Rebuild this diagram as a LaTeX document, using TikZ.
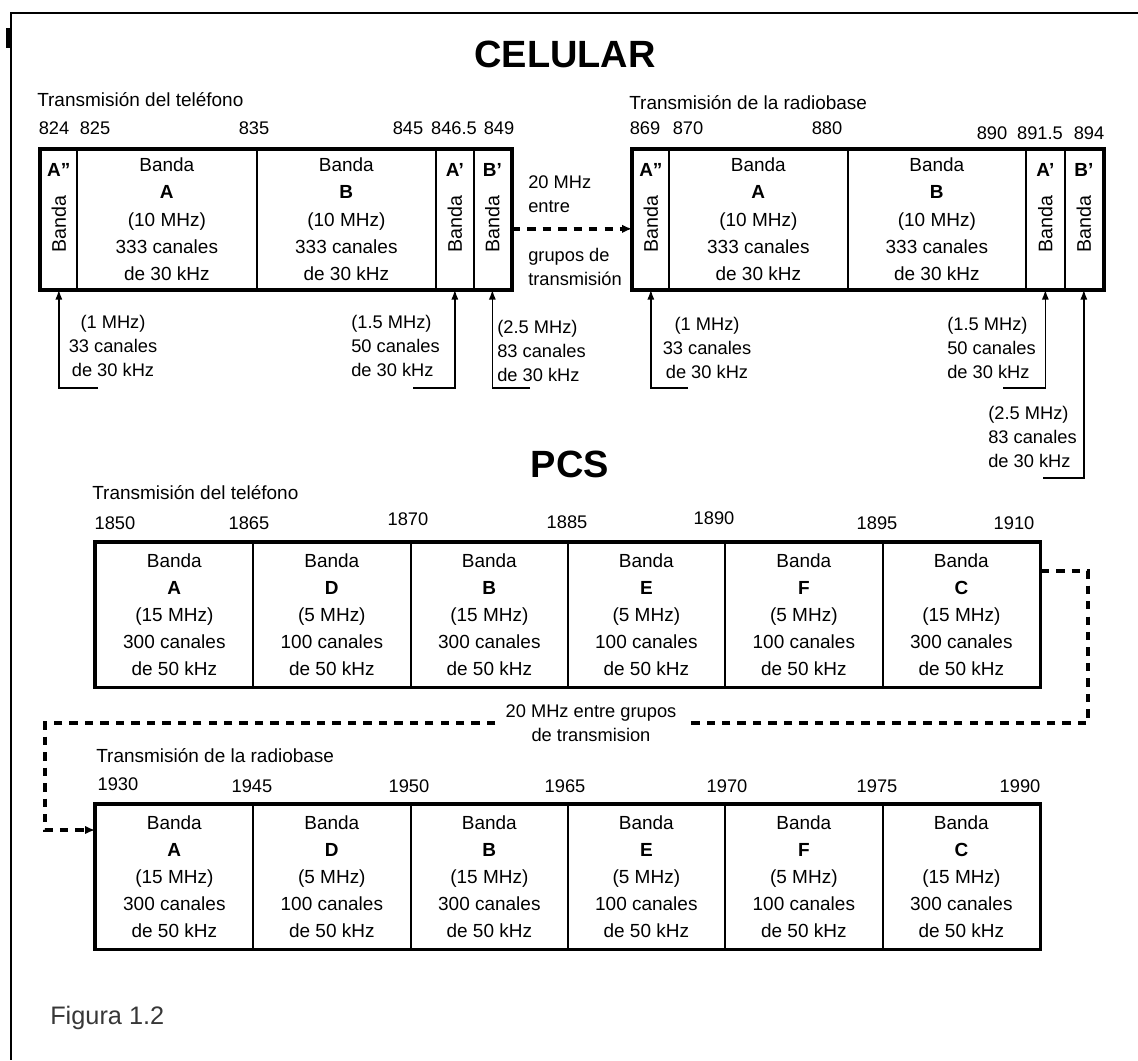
\documentclass[tikz,border=0pt]{standalone}
\usepackage{fontspec}
\setmainfont{Liberation Sans}
\usetikzlibrary{arrows.meta,positioning,calc}
\definecolor{figgray}{RGB}{55,55,55}
\tikzset{
  cell/.style={
    draw,
    line width=1.2pt,
    anchor=north west,
    inner sep=0pt,
    align=center,
    font=\fontsize{13.5}{19.3}\selectfont
  },
  cellw/.style={minimum width=#1*0.025cm},
  celbox/.style={cell,minimum height=139*0.025cm},
  pcsbox/.style={cell,minimum height=144*0.025cm},
  outer/.style={line width=2.8pt},
  num/.style={inner sep=0pt,font=\fontsize{13}{15}\selectfont},
  lbl/.style={inner sep=0pt,anchor=west,font=\fontsize{13.5}{16}\selectfont},
  note/.style={inner sep=0pt,font=\fontsize{13}{17}\selectfont},
  title/.style={inner sep=0pt,font=\fontsize{27}{30}\selectfont\bfseries},
  tag/.style={inner sep=0pt,font=\fontsize{13.5}{16}\selectfont\bfseries},
  side/.style={inner sep=0pt,rotate=90,font=\fontsize{14}{16}\selectfont},
  uparr/.style={-{Latex[length=7pt,width=5pt]},line width=1pt},
  gap/.style={line width=2.4pt,dash pattern=on 6pt off 5pt}
}

\begin{document}
\begin{tikzpicture}[x=0.025cm,y=-0.025cm]
  \useasboundingbox (0,0) rectangle (1138,1060);
  % frame
  \draw[line width=2pt] (1138,13) -- (11,13) -- (11,1060);
  \draw[line width=3pt] (8,28) -- (8,48);

  \node[title] (celular) at (565,54) {CELULAR};
  \node[title] (pcs) at (570,464) {PCS};

  % celular, telefono
  \node[lbl] (tphone) at (37,100) {Transmisión del teléfono};
  \node[num] (n824) at (54,128) {824};
  \node[num] (n825) at (95,128) {825};
  \node[num] (n835) at (254,128) {835};
  \node[num] (n845) at (408,128) {845};
  \node[num] (n8465) at (454,128) {846.5};
  \node[num] (n849) at (499,128) {849};

  \node[celbox,cellw=36] (tA2) at (40,149) {};
  \node[celbox,cellw=180] (tA) at (76,149) {Banda\\\textbf{A}\\(10 MHz)\\333 canales\\de 30 kHz};
  \node[celbox,cellw=179] (tB) at (256,149) {Banda\\\textbf{B}\\(10 MHz)\\333 canales\\de 30 kHz};
  \node[celbox,cellw=38] (tA1) at (435,149) {};
  \node[celbox,cellw=37] (tB1) at (473,149) {};
  \draw[outer] (tA2.north west) rectangle (tB1.south east);
  \node[tag] (tA2t) at ($(tA2.north)+(0,21)$) {A"};
  \node[side] (tA2s) at ($(tA2.center)+(0,4.5)$) {Banda};
  \node[tag] (tA1t) at ($(tA1.north)+(0,21)$) {A'};
  \node[side] (tA1s) at ($(tA1.center)+(0,4.5)$) {Banda};
  \node[tag] (tB1t) at ($(tB1.north)+(0,21)$) {B'};
  \node[side] (tB1s) at ($(tB1.center)+(0,4.5)$) {Banda};

  \coordinate (t1e) at (98,388);
  \coordinate (t2e) at (413,388);
  \coordinate (t3e) at (530,388);
  \draw[uparr] (t1e) -| (tA2.south);
  \draw[uparr] (t2e) -| (tA1.south);
  \draw[uparr] (t3e) -| (tB1.south);
  \node[note,align=center] (t1note) at (113,346) {(1 MHz)\\33 canales\\de 30 kHz};
  \node[note,align=left,anchor=west] (t2note) at (351,346) {(1.5 MHz)\\50 canales\\de 30 kHz};
  \node[note,align=left,anchor=west] (t3note) at (497,351) {(2.5 MHz)\\83 canales\\de 30 kHz};

  % separacion
  \node[note,align=left,anchor=west] (sep1) at (528,194) {20 MHz\\entre};
  \node[note,align=left,anchor=west] (sep2) at (528,267) {grupos de\\transmisión};

  % celular, radiobase
  \node[lbl] (tbase) at (629,103) {Transmisión de la radiobase};
  \node[num] (n869) at (645,128) {869};
  \node[num] (n870) at (688,128) {870};
  \node[num] (n880) at (827,128) {880};
  \node[num] (n890) at (992,133) {890};
  \node[num] (n8915) at (1040,133) {891.5};
  \node[num] (n894) at (1089,133) {894};

  \node[celbox,cellw=36] (rA2) at (632,149) {};
  \node[celbox,cellw=179] (rA) at (668,149) {Banda\\\textbf{A}\\(10 MHz)\\333 canales\\de 30 kHz};
  \node[celbox,cellw=178] (rB) at (847,149) {Banda\\\textbf{B}\\(10 MHz)\\333 canales\\de 30 kHz};
  \node[celbox,cellw=39] (rA1) at (1025,149) {};
  \node[celbox,cellw=38] (rB1) at (1064,149) {};
  \draw[outer] (rA2.north west) rectangle (rB1.south east);
  \node[tag] (rA2t) at ($(rA2.north)+(0,21)$) {A"};
  \node[side] (rA2s) at ($(rA2.center)+(0,4.5)$) {Banda};
  \node[tag] (rA1t) at ($(rA1.north)+(0,21)$) {A'};
  \node[side] (rA1s) at ($(rA1.center)+(0,4.5)$) {Banda};
  \node[tag] (rB1t) at ($(rB1.north)+(0,21)$) {B'};
  \node[side] (rB1s) at ($(rB1.center)+(0,4.5)$) {Banda};

  \draw[gap,-{Latex[length=7pt,width=6pt]}] ($(tB1.east)+(0,9.5)$) -- ($(rA2.west)+(0,9.5)$);

  \coordinate (r1e) at (688,388);
  \coordinate (r2e) at (1003,388);
  \coordinate (r3e) at (1043,478);
  \draw[uparr] (r1e) -| (rA2.south);
  \draw[uparr] (r2e) -| (rA1.south);
  \draw[uparr] (r3e) -| (rB1.south);
  \node[note,align=center] (r1note) at (707,348) {(1 MHz)\\33 canales\\de 30 kHz};
  \node[note,align=left,anchor=west] (r2note) at (947,348) {(1.5 MHz)\\50 canales\\de 30 kHz};
  \node[note,align=left,anchor=west] (r3note) at (988,437) {(2.5 MHz)\\83 canales\\de 30 kHz};

  % PCS, telefono
  \node[lbl] (pphone) at (92,493) {Transmisión del teléfono};
  \node[num] (n1850) at (115,523) {1850};
  \node[num] (n1865) at (249,523) {1865};
  \node[num] (n1870) at (408,519) {1870};
  \node[num] (n1885) at (567,522) {1885};
  \node[num] (n1890) at (714,518) {1890};
  \node[num] (n1895) at (877,523) {1895};
  \node[num] (n1910) at (1014,523) {1910};

  \node[pcsbox,cellw=157] (pA) at (95,542) {Banda\\\textbf{A}\\(15 MHz)\\300 canales\\de 50 kHz};
  \node[pcsbox,cellw=158] (pD) at (252,542) {Banda\\\textbf{D}\\(5 MHz)\\100 canales\\de 50 kHz};
  \node[pcsbox,cellw=157] (pB) at (410,542) {Banda\\\textbf{B}\\(15 MHz)\\300 canales\\de 50 kHz};
  \node[pcsbox,cellw=157] (pE) at (567,542) {Banda\\\textbf{E}\\(5 MHz)\\100 canales\\de 50 kHz};
  \node[pcsbox,cellw=158] (pF) at (724,542) {Banda\\\textbf{F}\\(5 MHz)\\100 canales\\de 50 kHz};
  \node[pcsbox,cellw=157] (pC) at (882,542) {Banda\\\textbf{C}\\(15 MHz)\\300 canales\\de 50 kHz};
  \draw[line width=2.2pt] (pA.north west) rectangle (pC.south east);

  % 20 MHz entre grupos
  \node[note,align=center,inner xsep=10*0.025cm] (gaptxt) at (591,723) {20 MHz entre grupos\\de transmision};
  \coordinate (pout) at ($(pC.north east)+(0,29)$);
  \coordinate (k1) at (1088,723);
  \coordinate (k2) at (45,830);
  \draw[gap] (pout) -| (k1) -- (gaptxt.east);

  % PCS, radiobase
  \node[lbl] (pbase) at (96,756) {Transmisión de la radiobase};
  \node[num] (n1930) at (118,784) {1930};
  \node[num] (n1945) at (252,786) {1945};
  \node[num] (n1950) at (409,786) {1950};
  \node[num] (n1965) at (565,786) {1965};
  \node[num] (n1970) at (727,786) {1970};
  \node[num] (n1975) at (877,786) {1975};
  \node[num] (n1990) at (1020,786) {1990};

  \node[pcsbox,cellw=157] (qA) at (95,804) {Banda\\\textbf{A}\\(15 MHz)\\300 canales\\de 50 kHz};
  \node[pcsbox,cellw=158] (qD) at (252,804) {Banda\\\textbf{D}\\(5 MHz)\\100 canales\\de 50 kHz};
  \node[pcsbox,cellw=157] (qB) at (410,804) {Banda\\\textbf{B}\\(15 MHz)\\300 canales\\de 50 kHz};
  \node[pcsbox,cellw=157] (qE) at (567,804) {Banda\\\textbf{E}\\(5 MHz)\\100 canales\\de 50 kHz};
  \node[pcsbox,cellw=158] (qF) at (724,804) {Banda\\\textbf{F}\\(5 MHz)\\100 canales\\de 50 kHz};
  \node[pcsbox,cellw=157] (qC) at (882,804) {Banda\\\textbf{C}\\(15 MHz)\\300 canales\\de 50 kHz};
  \draw[line width=2.2pt] (qA.north west) rectangle (qC.south east);

  \coordinate (qin) at ($(qA.north west)+(0,26)$);
  \draw[gap,-{Latex[length=7pt,width=6pt]}] (gaptxt.west) -| (k2) -- (qin);

  \node[inner sep=0pt,anchor=west,text=figgray,font=\fontsize{18}{20}\selectfont] (fig) at (50,1018) {Figura 1.2};
\end{tikzpicture}
\end{document}
